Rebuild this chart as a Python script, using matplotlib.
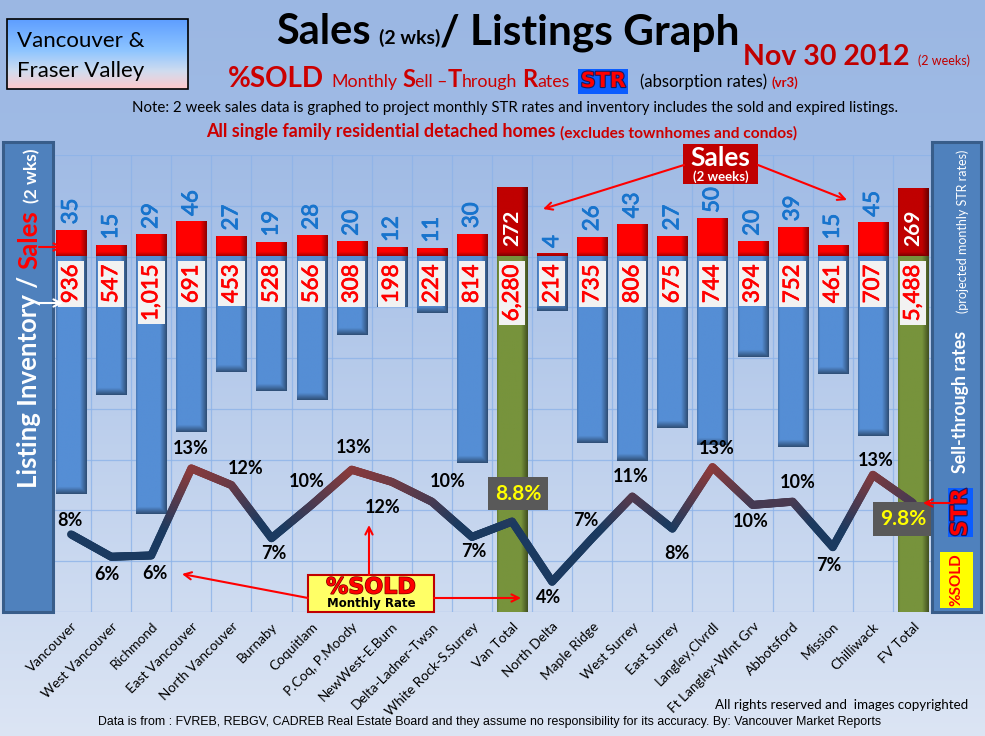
import numpy as np
import matplotlib
matplotlib.use("Agg")
import matplotlib.pyplot as plt
from matplotlib.collections import LineCollection
from matplotlib.patches import Rectangle, FancyArrowPatch
from matplotlib.colors import LinearSegmentedColormap, Normalize, to_rgb
import matplotlib.patheffects as pe

# ---------------- data ----------------
categories = ["Vancouver", "West Vancouver", "Richmond", "East Vancouver", "North Vancouver",
              "Burnaby", "Coquitlam", "P.Coq, P.Moody", "NewWest-E.Burn", "Delta-Ladner-Twsn",
              "White Rock-S.Surrey", "Van Total", "North Delta", "Maple Ridge", "West Surrey",
              "East Surrey", "Langley,Clvrdl", "Ft Langley-Wlnt Grv", "Abbotsford", "Mission",
              "Chilliwack", "FV Total"]
sales_2wk = [35, 15, 29, 46, 27, 19, 28, 20, 12, 11, 30, 272, 4, 26, 43, 27, 50, 20, 39, 15, 45, 269]
listings = [936, 547, 1015, 691, 453, 528, 566, 308, 198, 224, 814, 6280, 214, 735, 806, 675,
            744, 394, 752, 461, 707, 5488]
sold_pct = [7.7, 5.95, 6.05, 12.85, 11.55, 7.4, 10.0, 12.75, 11.8, 10.25, 7.5, 8.7, 4.0, 7.4,
            10.65, 8.15, 12.95, 10.0, 10.25, 6.7, 12.35, 10.15]
sold_labels = ["8%", "6%", "6%", "13%", "12%", "7%", "10%", "13%", "12%", "10%", "7%", "8.8%",
               "4%", "7%", "11%", "8%", "13%", "10%", "10%", "7%", "13%", "9.8%"]
is_total = [c.endswith("Total") for c in categories]

# label offsets (pixels, image-down positive) for the %SOLD labels
lab_off = [(-1, -14), (-4, 18), (4, 18), (-1, -20), (14, -17), (2, 15), (-5, -23), (2, -22),
           (-9, 26), (16, -20), (2, 15), (6, -28), (-4, 16), (-6, -18), (-2, -20), (5, 25),
           (4, -19), (-2, 17), (5, -19), (-4, 18), (3, -14), (-10, 16)]

DISTRICT_SALES_SCALE = 3   # district sales bars drawn x3 on the inventory scale

FONT = "Lato"
W, H = 985, 736
fig = plt.figure(figsize=(W / 100, H / 100), dpi=100)

# ---------------- background gradient ----------------
bg = fig.add_axes([0, 0, 1, 1], zorder=-10)
bg.axis("off")
ys_px = np.arange(H)
stops_y = [0, 150, 612, 736]
stops_c = np.array([(155, 183, 227), (160, 187, 229), (207, 220, 241), (220, 229, 244)]) / 255
grad = np.stack([np.interp(ys_px, stops_y, stops_c[:, k]) for k in range(3)], axis=1)
bg.imshow(grad[:, None, :], extent=(0, 1, 0, 1), aspect="auto", origin="upper")
bg.set_xlim(0, 1); bg.set_ylim(0, 1)

# ---------------- main axes ----------------
L, R, T, B = 51, 933, 155, 612
ax = fig.add_axes([L / W, 1 - B / H, (R - L) / W, (B - T) / H])
ax.patch.set_alpha(0)
for s in ax.spines.values():
    s.set_visible(False)

x = np.arange(len(categories))


def shade(axis, rect, color, end_len, zorder):
    x0, w = rect.get_x(), rect.get_width()
    y0, h = rect.get_y(), rect.get_height()
    ylo, yhi = min(y0, y0 + h), max(y0, y0 + h)
    base = np.array(to_rgb(color))
    xs = np.linspace(0, 1, 60)
    fx = np.ones_like(xs)
    r = xs > 0.78
    fx[r] = 1 - 0.45 * (xs[r] - 0.78) / 0.22
    lft = xs < 0.06
    fx[lft] = 0.85 + 0.15 * xs[lft] / 0.06
    yy = np.linspace(ylo, yhi, 400)
    fy = np.ones_like(yy)
    m = yy < ylo + end_len
    fy[m] = 0.55 + 0.45 * (yy[m] - ylo) / end_len
    f = np.minimum(fx[None, :], fy[:, None])
    img = np.clip(base[None, None, :] * f[:, :, None], 0, 1)
    axis.imshow(img, extent=(x0, x0 + w, ylo, yhi), origin="lower", aspect="auto",
                interpolation="bilinear", zorder=zorder)
    rect.set_visible(False)


sales_h = [s if t else s * DISTRICT_SALES_SCALE for s, t in zip(sales_2wk, is_total)]
sales_col = ["#C00000" if t else "#FF0000" for t in is_total]
list_col = ["#77933C" if t else "#558ED5" for t in is_total]

bars_s = ax.bar(x, sales_h, width=0.75, color=sales_col, zorder=3)
bars_l = ax.bar(x, [-v for v in listings], width=0.75, color=list_col, zorder=3)
for b, c in zip(bars_s, sales_col):
    shade(ax, b, c, 20, 3)
for b, c in zip(bars_l, list_col):
    shade(ax, b, c, 28, 3)

# inventory labels
for i, v in enumerate(listings):
    ax.text(i, -31, f"{v:,}", rotation=90, ha="center", va="top", color="#FF0000",
            fontsize=16, family=FONT, zorder=6,
            path_effects=[pe.withStroke(linewidth=0.5, foreground="#FF0000")],
            bbox=dict(boxstyle="square,pad=0.15", fc="#F2F2F2", ec="none"))

# sales labels
for i, (s, h, t) in enumerate(zip(sales_2wk, sales_h, is_total)):
    if t:
        ax.text(i, h * 0.42, str(s), rotation=90, ha="center", va="center", color="white",
                fontsize=15, weight="bold", family=FONT, zorder=6)
    else:
        ax.annotate(str(s), (i, h), xytext=(0, 4), textcoords="offset points", rotation=90,
                    ha="center", va="bottom", color="#1874CD", fontsize=16, family=FONT,
                    zorder=6, path_effects=[pe.withStroke(linewidth=0.6, foreground="#1874CD")])

ax.set_xlim(-0.5, len(categories) - 0.5)
ax.set_ylim(-1400, 400)
ax.set_yticks(np.arange(-1400, 401, 200))
ax.set_yticklabels([])
ax.tick_params(axis="y", length=0)
ax.set_xticks(np.arange(-0.5, len(categories), 1), minor=True)
ax.set_xticks(x)
ax.set_xticklabels(categories, rotation=45, ha="right", rotation_mode="anchor",
                   fontsize=9.8, family=FONT)
ax.tick_params(axis="x", which="both", length=0, pad=6)
ax.grid(True, axis="y", color="#8DB3E8", lw=0.9, alpha=0.8, zorder=0)
ax.grid(True, axis="x", which="minor", color="#8DB3E8", lw=0.9, alpha=0.8, zorder=0)
ax.grid(False, axis="x", which="major")
ax.set_axisbelow(True)

# ---------------- %SOLD line ----------------
ax2 = ax.twinx()
ax2.set_ylim(1.633, 37.34)
ax2.axis("off")
cmap = LinearSegmentedColormap.from_list("str", ["#1B3A60", "#8E3A3A"])
pts = np.column_stack([x, sold_pct])
segs, vals = [], []
for k in range(len(pts) - 1):
    p0, p1 = pts[k], pts[k + 1]
    ts = np.linspace(0, 1, 31)
    for a, b in zip(ts[:-1], ts[1:]):
        q0 = p0 + (p1 - p0) * a
        q1 = p0 + (p1 - p0) * b
        segs.append([q0, q1])
        vals.append((q0[1] + q1[1]) / 2)
lc = LineCollection(segs, array=np.array(vals), cmap=cmap, norm=Normalize(8.3, 13.0),
                    linewidths=5.8, capstyle="round", zorder=4)
ax2.add_collection(lc)
ax2.set_xlim(-0.5, len(categories) - 0.5)

for i, (v, lab, (dx, dy), t) in enumerate(zip(sold_pct, sold_labels, lab_off, is_total)):
    kw = dict(xytext=(dx * 0.72, -dy * 0.72), textcoords="offset points", ha="center",
              va="center", weight="bold", family=FONT, zorder=7)
    if t:
        ax2.annotate(lab, (i, v), color="#FFFF00", fontsize=15,
                     bbox=dict(boxstyle="square,pad=0.32", fc="#595959", ec="none"), **kw)
    else:
        ax2.annotate(lab, (i, v), color="black", fontsize=13, **kw)

# ---------------- overlay (pixel coordinates) ----------------
ov = fig.add_axes([0, 0, 1, 1], zorder=10)
ov.set_xlim(0, W)
ov.set_ylim(H, 0)
ov.axis("off")
ov.patch.set_alpha(0)
renderer = fig.canvas.get_renderer()
inv = ov.transData.inverted


def chain(x0, y0, parts, rotation=0):
    cx, cy = x0, y0
    for s, gap, kw in parts:
        if rotation == 0:
            cx += gap
        else:
            cy -= gap
        t = ov.text(cx, cy, s, ha="left", va="baseline", rotation=rotation,
                    rotation_mode="anchor", **kw)
        bb = t.get_window_extent(renderer)
        if rotation == 0:
            cx = inv().transform((bb.x1, bb.y0))[0]
        else:
            cy = inv().transform((bb.x0, bb.y1))[1]


def arrow(p0, p1, color="#FF0000", lw=1.5):
    ov.add_patch(FancyArrowPatch(p0, p1, arrowstyle="->", mutation_scale=13, lw=lw,
                                 color=color, shrinkA=0, shrinkB=0, zorder=12))


# top-left region box with gradient
gbox = LinearSegmentedColormap.from_list("gb", [(0, "#5E9EFF"), (0.45, "#8EC5FF"),
                                                (0.75, "#D0DCEF"), (1, "#FFC9CC")])
ov.imshow(gbox(np.linspace(0, 1, 100))[:, None, :3], extent=(7, 188, 89, 19), aspect="auto",
          zorder=1)
ov.add_patch(Rectangle((7, 19), 181, 70, fc="none", ec="black", lw=1.2, zorder=2))
ov.text(17, 46.7, "Vancouver &", fontsize=16, family=FONT, va="baseline", zorder=3)
ov.text(17, 76.7, "Fraser Valley", fontsize=16, family=FONT, va="baseline", zorder=3)
ov.set_xlim(0, W)
ov.set_ylim(H, 0)

# title
chain(276, 44, [("Sales", 0, dict(fontsize=30, weight="bold", family=FONT)),
                ("(2 wks)", 8, dict(fontsize=14, weight="bold", family=FONT)),
                ("/ Listings Graph", 0, dict(fontsize=30.5, weight="bold", family=FONT))])
chain(743, 65, [("Nov 30 2012", 0, dict(fontsize=20.5, weight="bold", family=FONT, color="#C00000")),
                ("(2 weeks)", 8, dict(fontsize=9, family=FONT, color="#C00000"))])

red = "#CC0000"
small = dict(fontsize=12.8, family=FONT, color=red)
big = dict(fontsize=17, family=FONT, color=red, weight="bold")
chain(228, 87, [("%SOLD", 0, dict(fontsize=20, weight="bold", family=FONT, color=red)),
                ("Monthly", 7, small), ("S", 5, big), ("ell \u2013", 0, small),
                ("T", 0, big), ("hrough", 0, small), ("R", 5, big), ("ates", 0, small),
                ("STR", 11, dict(fontsize=15, weight="bold", family="DejaVu Sans",
                                 color="#FF0000",
                                 path_effects=[pe.withStroke(linewidth=1.6, foreground="#1a1a60")],
                                 bbox=dict(boxstyle="square,pad=0.12", fc="#0A5CFF", ec="none"))),
                ("(absorption rates)", 14, dict(fontsize=12, family=FONT, color="black")),
                ("(vr3)", 5, dict(fontsize=9.5, family=FONT, color=red, weight="bold"))])

ov.text(132, 112.3, "Note: 2 week sales data is graphed to project monthly STR rates and "
        "inventory includes the sold and expired listings.", fontsize=10.85, family=FONT,
        va="baseline")
chain(206, 137.3, [("All single family residential detached homes", 0,
                    dict(fontsize=12.9, weight="bold", family=FONT, color=red)),
                   ("(excludes townhomes and condos)", 5,
                    dict(fontsize=11.2, weight="bold", family=FONT, color=red))])

# side panels
ov.add_patch(Rectangle((3, 142), 50, 470, fc="#4F81BD", ec="#385D8A", lw=2.2, zorder=1))
ov.add_patch(Rectangle((932, 142), 49, 470, fc="#4F81BD", ec="#385D8A", lw=2.2, zorder=1))
chain(37, 488, [("Listing Inventory /", 0, dict(fontsize=18.5, weight="bold", family=FONT, color="white")),
                ("Sales", 7, dict(fontsize=18.5, weight="bold", family=FONT, color="#FF0000")),
                ("(2 wks)", 7, dict(fontsize=12.5, weight="bold", family=FONT, color="white"))],
      rotation=90)
chain(966, 473, [("Sell-through rates", 0, dict(fontsize=12.8, weight="bold", family=FONT,
                                                color="white"))], rotation=90)
chain(967, 313, [("(projected monthly STR rates)", 0, dict(fontsize=9, family=FONT,
                                                          color="white"))], rotation=90)
ov.add_patch(Rectangle((948, 488), 25, 49, fc="#0A5CFF", ec="none", zorder=2))
ov.text(960.5, 512.5, "STR", rotation=90, ha="center", va="center", fontsize=16,
        weight="bold", family="DejaVu Sans", color="#FF0000", zorder=3,
        path_effects=[pe.withStroke(linewidth=1.8, foreground="#1a1a60")])
ov.add_patch(Rectangle((940, 552), 33, 56, fc="#FFFF00", ec="none", zorder=2))
ov.text(956.5, 580, "%SOLD", rotation=90, ha="center", va="center", fontsize=11,
        weight="bold", family=FONT, color="#FF0000", zorder=3)

# small arrows from left panel
arrow((39, 247), (63, 247), color="#FF0000", lw=1.5)
arrow((38, 303), (63, 303), color="white", lw=1.5)

# Sales (2 weeks) callout
ov.add_patch(Rectangle((683, 144), 75, 40, fc="#C00000", ec="none", zorder=11))
ov.text(720.5, 157.5, "Sales", ha="center", va="center", fontsize=19, weight="bold",
        family=FONT, color="white", zorder=12)
ov.text(720.5, 177, "(2 weeks)", ha="center", va="center", fontsize=9.5, weight="bold",
        family=FONT, color="white", zorder=12)
arrow((684, 165), (543, 209))
arrow((758, 165), (847, 200))

# %SOLD Monthly Rate callout
ov.add_patch(Rectangle((308, 575), 126, 37, fc="#FFFF66", ec="#C00000", lw=1.5, zorder=11))
ov.text(371, 587.5, "%SOLD", ha="center", va="center", fontsize=16, weight="bold",
        family="DejaVu Sans", color="#FF0000", zorder=12,
        path_effects=[pe.withStroke(linewidth=1.0, foreground="#7a0000")])
ov.text(371, 604, "Monthly Rate", ha="center", va="center", fontsize=8.5, weight="bold",
        family="DejaVu Sans", color="black", zorder=12)
arrow((308, 598), (182, 574))
arrow((369, 575), (369, 525))
arrow((434, 598), (521, 598))
arrow((953, 503), (923, 503))

# footer
ov.text(715, 709, "All rights reserved and  images copyrighted", fontsize=9.6, family=FONT,
        va="baseline")
ov.text(97.7, 725, "Data is from : FVREB, REBGV, CADREB Real Estate Board and they assume no "
        "responsibility for its accuracy. By: Vancouver Market Reports", fontsize=8.95,
        family="Liberation Sans", va="baseline")

fig.savefig("out.png", dpi=100)
